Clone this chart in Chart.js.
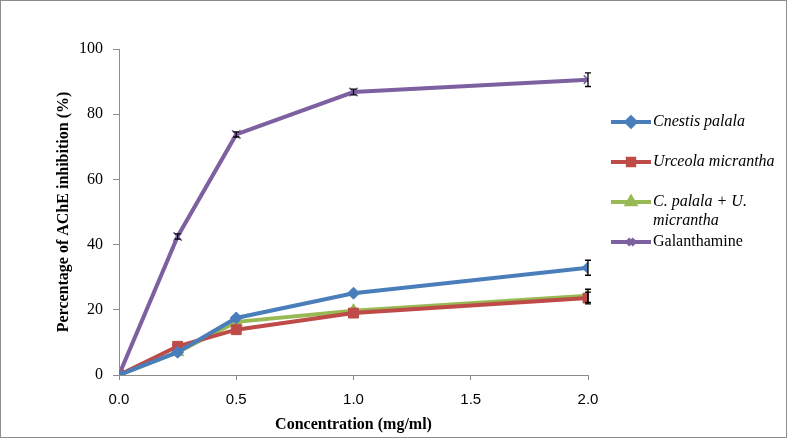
<!DOCTYPE html>
<html>
<head>
<meta charset="utf-8">
<script src="https://cdn.jsdelivr.net/npm/chart.js@4.4.1/dist/chart.umd.min.js"></script>
<style>
html,body{margin:0;padding:0;background:#fff;}
canvas{display:block;}
</style>
</head>
<body>
<canvas id="c" width="787" height="438"></canvas>
<script>
const concentrations = [0, 0.25, 0.5, 1.0, 2.0];
const cnestis = [0, 7.0, 17.5, 25.1, 32.9];
const urceola = [0, 8.8, 13.9, 19.0, 23.6];
const combo = [0, 7.0, 16.3, 19.7, 24.3];
const galanthamine = [0, 42.5, 73.8, 86.8, 90.6];
const cnestisErr = [0, 0.3, 0.4, 0.5, 2.3];
const urceolaErr = [0, 0.3, 0.4, 0.4, 1.8];
const comboErr = [0, 0.3, 0.4, 0.4, 2.0];
const galanthamineErr = [0, 0.8, 0.8, 0.9, 2.1];
const seriesNames = ['Cnestis palala', 'Urceola micrantha', ['C. palala + U.', 'micrantha'], 'Galanthamine'];
const xTicks = [0, 0.5, 1.0, 1.5, 2.0];

const colors = ['#4a7ebb', '#be4b48', '#98b954', '#7d60a0'];
const styles = ['rectRot', 'rect', 'triangle', 'crossRot'];
const radii = [6, 7, 7, 6];
const allVals = [cnestis, urceola, combo, galanthamine];
const allErr = [cnestisErr, urceolaErr, comboErr, galanthamineErr];
const italic = [true, true, true, false];

function pts(vals, errs){ return concentrations.map((x,i)=>({x:x, y:vals[i], e:errs[i]})); }

const datasets = allVals.map((v,i)=>({
  label: Array.isArray(seriesNames[i]) ? seriesNames[i].join(' ') : seriesNames[i],
  data: pts(v, allErr[i]),
  borderColor: colors[i],
  backgroundColor: colors[i],
  pointStyle: styles[i],
  pointRadius: radii[i],
  pointBorderColor: colors[i],
  pointBackgroundColor: colors[i],
  pointBorderWidth: i===3 ? 1.5 : 1,
  borderWidth: 4,
  tension: 0
}));

const frame = {
  id:'frame',
  beforeDraw(chart){
    const c = chart.ctx;
    c.save();
    c.fillStyle='#fff'; c.fillRect(0,0,chart.width,chart.height);
    c.strokeStyle='#8c8c8c'; c.lineWidth=1;
    c.strokeRect(0.5,0.5,chart.width-1,chart.height-1);
    c.restore();
  }
};

const errorBars = {
  id:'errorBars',
  afterDatasetsDraw(chart){
    const c = chart.ctx, xs = chart.scales.x, ys = chart.scales.y;
    c.save();
    c.strokeStyle='#000'; c.lineWidth=1.3;
    chart.data.datasets.forEach(ds=>{
      ds.data.forEach(p=>{
        if(!p.e || p.e < 0.6) return;
        const px = xs.getPixelForValue(p.x);
        const y1 = ys.getPixelForValue(p.y + p.e), y2 = ys.getPixelForValue(p.y - p.e);
        c.beginPath();
        c.moveTo(px,y1); c.lineTo(px,y2);
        c.moveTo(px-3,y1); c.lineTo(px+3,y1);
        c.moveTo(px-3,y2); c.lineTo(px+3,y2);
        c.stroke();
      });
    });
    c.restore();
  }
};

const legendPlugin = {
  id:'customLegend',
  afterDraw(chart){
    const c = chart.ctx;
    c.save();
    const rows = [122, 162, 202, 242];
    const x0 = 611, x1 = 651;
    chart.data.datasets.forEach((ds,i)=>{
      const y = rows[i];
      c.strokeStyle = colors[i]; c.lineWidth = 4;
      c.beginPath(); c.moveTo(x0,y); c.lineTo(x1,y); c.stroke();
      const cx = (x0+x1)/2;
      c.fillStyle = colors[i]; c.strokeStyle = colors[i];
      Chart.helpers.drawPoint(c, {pointStyle: styles[i], radius: 4.5, rotation:0, borderWidth: i===3?1.5:1}, cx, y);
      c.font = (italic[i] ? 'italic ' : '') + '16px "Liberation Serif"';
      c.fillStyle = '#000';
      c.textBaseline = 'middle';
      c.textAlign = 'left';
      const t = seriesNames[i];
      if(Array.isArray(t)){
        t.forEach((line,k)=>c.fillText(line, 653, y + k*19));
      } else {
        c.fillText(t, 653, y);
      }
    });
    c.restore();
  }
};

new Chart(document.getElementById('c'), {
  type:'line',
  data:{ datasets: datasets },
  plugins:[frame, errorBars, legendPlugin],
  options:{
    responsive:false,
    animation:false,
    devicePixelRatio:1,
    layout:{ padding:{ top:49, right:199, left:54, bottom:0 } },
    plugins:{ legend:{display:false}, tooltip:{enabled:false} },
    scales:{
      x:{
        type:'linear', min:0, max:2,
        afterBuildTicks(s){ s.ticks = xTicks.map(v=>({value:v})); },
        afterFit(s){ s.height = 63; },
        grid:{ drawOnChartArea:false, drawTicks:true, tickLength:5, color:'#8c8c8c' },
        border:{ color:'#8c8c8c', width:1 },
        ticks:{ color:'#000', padding:11, font:{ family:'"Liberation Sans"', size:15 }, callback:(v)=>Number(v).toFixed(1) },
        title:{ display:true, text:'Concentration (mg/ml)', color:'#000', font:{ family:'"Liberation Serif"', size:16, weight:'bold' }, padding:{top:4, bottom:4} }
      },
      y:{
        min:0, max:100,
        ticks:{ stepSize:20, color:'#000', padding:10, font:{ family:'"Liberation Serif"', size:16 } },
        afterFit(s){ s.width = 65; },
        grid:{ drawOnChartArea:false, drawTicks:true, tickLength:6, color:'#8c8c8c' },
        border:{ color:'#8c8c8c', width:1 },
        title:{ display:true, text:'Percentage of AChE inhibition (%)', color:'#000', font:{ family:'"Liberation Serif"', size:16, weight:'bold' }, padding:{top:0, bottom:0} }
      }
    }
  }
});
</script>
</body>
</html>
